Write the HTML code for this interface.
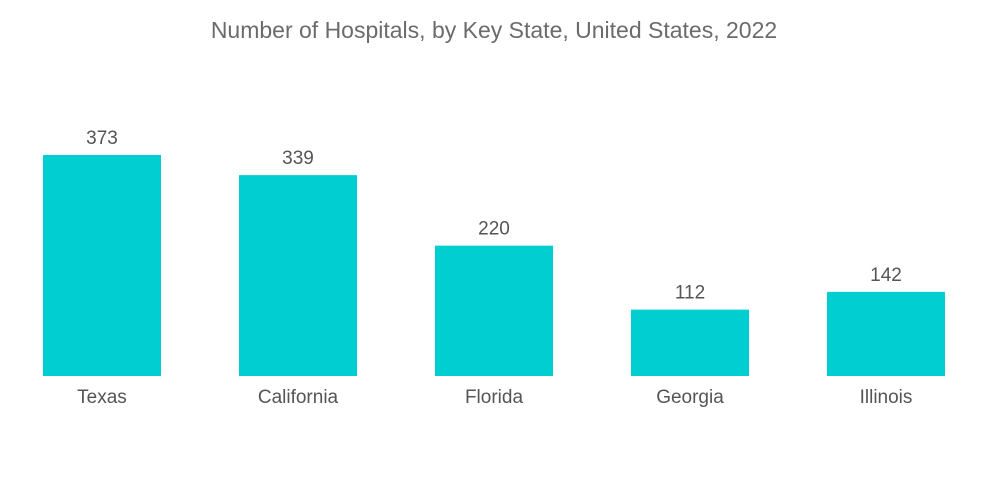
<!DOCTYPE html>
<html><head><meta charset="utf-8"><style>
html,body{margin:0;padding:0;background:#fff;}
svg{display:block;font-family:"Liberation Sans",sans-serif;}
</style></head><body>
<svg id="chart" width="1000" height="504">
<text x="494" y="38" text-anchor="middle" font-size="23" fill="#6b6b6b">Number of Hospitals, by Key State, United States, 2022</text>
<g id="bars"></g>
</svg>
<script>
const categories = ["Texas","California","Florida","Georgia","Illinois"];
const values = [373,339,220,112,142];
const labels = ["373","339","220","112","142"];
const baseY = 376, pxPerUnit = 221/373, firstX = 43, step = 196, barW = 118;
const ns = "http://www.w3.org/2000/svg";
const g = document.getElementById("bars");
function xPos(i){return firstX + i*step;}
function yPos(v){return baseY - v*pxPerUnit;}
categories.forEach((c,i)=>{
  const r = document.createElementNS(ns,"rect");
  
  
  r.setAttribute("x", xPos(i)); r.setAttribute("y", yPos(values[i]));
  r.setAttribute("width", barW); r.setAttribute("height", baseY - yPos(values[i]));
  r.setAttribute("fill", "#00ced1");
  g.appendChild(r);
  const t = document.createElementNS(ns,"text");
  
  
  t.setAttribute("x", xPos(i)+barW/2); t.setAttribute("y", yPos(values[i])-11);
  t.setAttribute("text-anchor","middle"); t.setAttribute("font-size","19"); t.setAttribute("fill","#555");
  t.textContent = labels[i];
  g.appendChild(t);
  const l = document.createElementNS(ns,"text");
  
  
  l.setAttribute("x", xPos(i)+barW/2); l.setAttribute("y", 403);
  l.setAttribute("text-anchor","middle"); l.setAttribute("font-size","19"); l.setAttribute("fill","#555");
  l.textContent = c;
  g.appendChild(l);
});
</script>
</body></html>
